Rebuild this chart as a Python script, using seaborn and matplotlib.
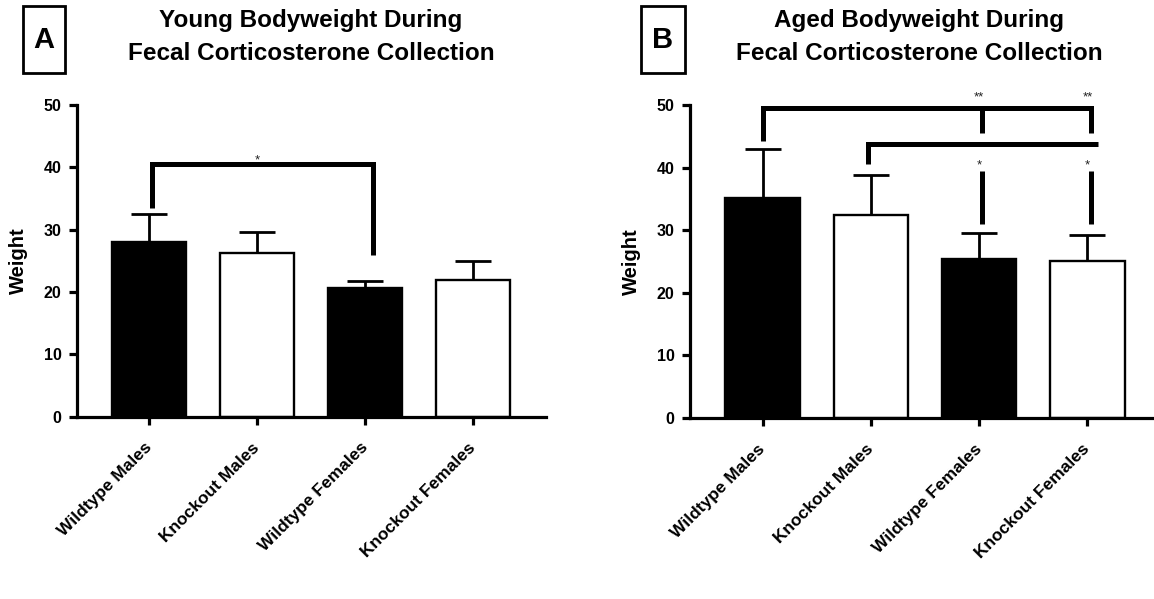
import matplotlib
matplotlib.use("Agg")
import matplotlib.pyplot as plt
import seaborn as sns
import pandas as pd
from matplotlib.patches import Rectangle

# ---------------- data ----------------
groups = ["Wildtype Males", "Knockout Males", "Wildtype Females", "Knockout Females"]
fills = ["black", "white", "black", "white"]
young_mean = [28.1, 26.2, 20.7, 21.9]
young_sd = [4.4, 3.4, 1.1, 3.0]
aged_mean = [35.1, 32.4, 25.4, 25.1]
aged_sd = [7.8, 6.4, 4.1, 4.1]
y_ticks = [0, 10, 20, 30, 40, 50]
titles = ["Young Bodyweight During\nFecal Corticosterone Collection",
          "Aged Bodyweight During\nFecal Corticosterone Collection"]
panel_letters = ["A", "B"]
y_label = "Weight"

# ---------------- style ----------------
sns.set_theme(style="ticks")
plt.rcParams["font.family"] = ["Liberation Sans", "DejaVu Sans"]
plt.rcParams["font.weight"] = "bold"
for k in ["text.color", "axes.labelcolor", "xtick.color", "ytick.color", "axes.edgecolor"]:
    plt.rcParams[k] = "black"

W, H = 1154, 599
fig = plt.figure(figsize=(W / 100, H / 100), dpi=100)

axA = fig.add_axes([76.7 / W, 1 - 416.7 / H, 468.9 / W, 311.7 / H])
axB = fig.add_axes([690 / W, 1 - 418 / H, 470 / W, 313 / H])


def draw(ax, means, sds):
    df = pd.DataFrame({"group": groups, "weight": means})
    sns.barplot(data=df, x="group", y="weight", hue="group", order=groups, hue_order=groups,
                palette=fills, width=0.685, edgecolor="black", linewidth=1.7,
                saturation=1, errorbar=None, legend=False, ax=ax)
    eb = ax.errorbar(range(len(groups)), means, yerr=[[0] * len(sds), sds], fmt="none",
                     ecolor="black", elinewidth=2.0, capsize=13, capthick=2.0, zorder=3)
    eb[1][0].set_visible(False)
    ax.set_xlim(-0.67, 3.67)
    ax.set_ylim(0, 50)
    ax.set_yticks(y_ticks)
    sns.despine(ax=ax)
    for s in ["left", "bottom"]:
        ax.spines[s].set_linewidth(2.3)
    ax.tick_params(axis="y", direction="out", length=6, width=2.3, labelsize=11.5, pad=5)
    ax.tick_params(axis="x", direction="out", length=5.5, width=2.3, pad=15)
    for lab in ax.get_yticklabels():
        lab.set_fontweight("bold")
    ax.set_xlabel("")
    ax.set_ylabel(y_label, fontsize=14.5, fontweight="bold")
    ax.yaxis.set_label_coords(-0.104, 0.5)
    ax.set_xticks(range(len(groups)))
    ax.set_xticklabels(groups, rotation=45, ha="right", va="center",
                       rotation_mode="anchor", fontsize=12.5, fontweight="bold")


def line(ax, xs, ys, lw=3.6):
    ax.plot(xs, ys, color="black", lw=lw, solid_capstyle="butt",
            solid_joinstyle="miter", clip_on=False, zorder=4)


def star(ax, x, y, s):
    ax.text(x, y, s, ha="center", va="bottom", fontsize=9.5, fontweight="normal",
            color="#222222", clip_on=False)


draw(axA, young_mean, young_sd)
draw(axB, aged_mean, aged_sd)

# significance annotations, panel A
line(axA, [0.03, 0.03, 2.07, 2.07], [33.5, 40.5, 40.5, 26.0])
star(axA, 1.0, 40.2, "*")

# significance annotations, panel B
line(axB, [0.0, 0.0, 3.03, 3.03], [44.3, 49.6, 49.6, 45.5])
line(axB, [2.03, 2.03], [49.6, 45.5])
star(axB, 2.0, 50.2, "**")
star(axB, 3.0, 50.2, "**")
line(axB, [0.97, 0.97, 3.1], [40.5, 43.7, 43.7])
line(axB, [2.03, 2.03], [39.5, 31.0])
line(axB, [3.03, 3.03], [39.5, 31.0])
star(axB, 2.0, 39.4, "*")
star(axB, 3.0, 39.4, "*")

# titles and panel letters
for cx, t in zip([311, 919], titles):
    fig.text(cx / W, 1 - 9 / H, t, ha="center", va="top", fontsize=17.5,
             fontweight="bold", linespacing=1.55)

for (bx0, bx1), letter in zip([(23, 65), (641, 685)], panel_letters):
    fig.add_artist(Rectangle((bx0 / W, 1 - 73 / H), (bx1 - bx0) / W, 67 / H,
                             transform=fig.transFigure, fill=False,
                             edgecolor="black", linewidth=2.0))
    fig.text((bx0 + bx1) / 2 / W, 1 - 40 / H, letter, ha="center", va="center",
             fontsize=21, fontweight="bold")

fig.savefig("out.png", dpi=100)
